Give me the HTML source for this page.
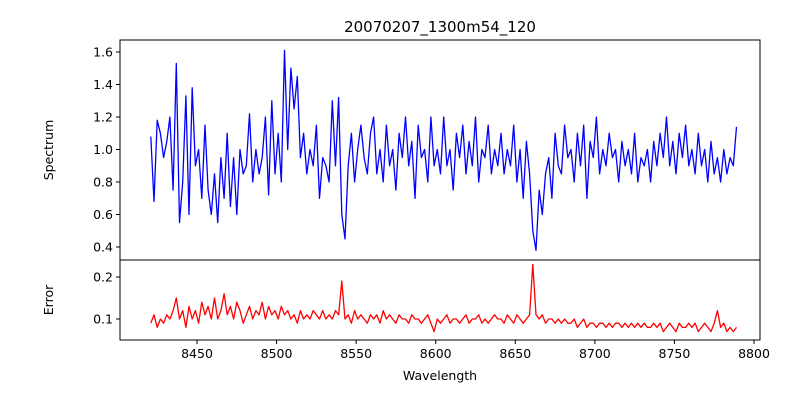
<!DOCTYPE html>
<html><head><meta charset="utf-8"><style>
body{margin:0;background:#fff;width:800px;height:400px;overflow:hidden}
svg text{font-family:"DejaVu Sans","Liberation Sans",sans-serif;font-size:12.5px;fill:#000}
</style></head><body>
<svg id="c" width="800" height="400" xmlns="http://www.w3.org/2000/svg"></svg>
<script>
const wlStart = 8421, wlStep = 2;
const spectrum = [1.08,0.68,1.18,1.1,0.95,1.05,1.2,0.75,1.53,0.55,
0.8,1.33,0.6,1.38,0.9,1.0,0.7,1.15,0.75,0.6,
0.85,0.55,0.95,0.7,1.1,0.65,0.95,0.6,1.0,0.85,
0.9,1.22,0.8,1.0,0.85,0.95,1.2,0.72,1.3,0.85,
1.1,0.8,1.61,1.0,1.5,1.25,1.45,0.95,1.1,0.85,
1.0,0.9,1.15,0.7,0.95,0.9,0.8,1.3,0.9,1.32,
0.6,0.45,0.9,1.1,0.8,1.0,1.15,0.95,0.85,1.1,
1.2,0.85,1.0,0.8,1.15,0.9,1.0,0.75,1.1,0.95,
1.2,0.9,1.05,0.7,1.15,0.95,1.0,0.8,1.2,0.9,
1.0,0.85,1.2,0.9,1.0,0.75,1.1,0.95,1.15,0.85,
1.05,0.9,1.2,0.8,1.0,0.95,1.15,0.85,1.0,0.9,
1.1,0.85,1.0,0.9,1.15,0.8,1.0,0.7,1.05,0.85,
0.5,0.38,0.75,0.6,0.85,0.95,0.7,1.1,0.9,0.85,
1.15,0.95,1.0,0.8,1.1,0.9,1.15,0.7,1.05,0.95,
1.2,0.85,1.0,0.9,1.1,0.95,1.0,0.8,1.05,0.9,
1.0,0.85,1.1,0.8,0.95,0.9,1.0,0.8,1.05,0.9,
1.1,0.95,1.2,0.9,1.05,0.85,1.1,0.95,1.15,0.9,
1.0,0.85,1.1,0.9,1.0,0.8,1.05,0.85,0.95,0.8,
1.0,0.85,0.95,0.9,1.14];
const errors = [0.09,0.11,0.08,0.1,0.09,0.11,0.1,0.12,0.15,0.1,
0.12,0.08,0.13,0.1,0.12,0.09,0.14,0.11,0.13,0.1,
0.15,0.1,0.12,0.16,0.11,0.13,0.1,0.14,0.12,0.09,
0.11,0.13,0.1,0.12,0.11,0.14,0.1,0.13,0.11,0.12,
0.1,0.13,0.11,0.12,0.1,0.11,0.09,0.12,0.1,0.11,
0.1,0.12,0.11,0.1,0.12,0.1,0.11,0.1,0.12,0.11,
0.19,0.1,0.11,0.09,0.12,0.1,0.11,0.1,0.09,0.11,
0.1,0.11,0.09,0.12,0.1,0.11,0.1,0.09,0.11,0.1,
0.1,0.09,0.11,0.1,0.1,0.09,0.1,0.11,0.09,0.07,
0.1,0.09,0.1,0.11,0.09,0.1,0.1,0.09,0.1,0.11,
0.09,0.1,0.1,0.11,0.09,0.1,0.09,0.1,0.11,0.1,
0.1,0.09,0.11,0.1,0.09,0.11,0.1,0.09,0.1,0.11,
0.23,0.11,0.1,0.11,0.09,0.1,0.1,0.09,0.1,0.09,
0.1,0.09,0.09,0.1,0.08,0.09,0.1,0.08,0.09,0.09,
0.08,0.09,0.09,0.08,0.09,0.08,0.09,0.09,0.08,0.09,
0.08,0.09,0.08,0.09,0.08,0.09,0.08,0.08,0.09,0.08,
0.09,0.07,0.08,0.09,0.08,0.07,0.09,0.08,0.08,0.09,
0.08,0.09,0.07,0.08,0.09,0.08,0.07,0.09,0.12,0.08,
0.09,0.07,0.08,0.07,0.08];
const xTicks = [8450,8500,8550,8600,8650,8700,8750,8800];
const specTicks = [0.4,0.6,0.8,1.0,1.2,1.4,1.6];
const errTicks = [0.1,0.2];

const NS="http://www.w3.org/2000/svg", svg=document.getElementById('c');
function mk(t,a,txt){const e=document.createElementNS(NS,t);for(const k in a)e.setAttribute(k,a[k]);if(txt!==undefined)e.textContent=txt;svg.appendChild(e);return e;}
const xS = w => 197 + (w-8450)*(754-197)/350;
const ySpec = v => 247 - (v-0.4)*(247-52)/1.2;
const yErr = v => 319 - (v-0.1)*420;

function line(vals,yf,color,name){
  let d='';vals.forEach((v,i)=>{d+=(i?'L':'M')+xS(wlStart+i*wlStep).toFixed(1)+','+yf(v).toFixed(1);});
  const p=mk('path',{d:d,fill:'none',stroke:color,'stroke-width':1.3,'stroke-linejoin':'round'});
  
  
}
line(spectrum,ySpec,'#0000ff','spectrum-line');
line(errors,yErr,'#ff0000','error-line');

let f=mk('rect',{x:120,y:40,width:640,height:220,fill:'none',stroke:'#000','stroke-width':1});


f=mk('rect',{x:120,y:260,width:640,height:80,fill:'none',stroke:'#000','stroke-width':1});



xTicks.forEach(t=>{const x=xS(t);mk('line',{x1:x,x2:x,y1:340,y2:344,stroke:'#000'});
  const e=mk('text',{x:x,y:358,'text-anchor':'middle'},String(t));
  
  });
specTicks.forEach(t=>{const y=ySpec(t);mk('line',{x1:116,x2:120,y1:y,y2:y,stroke:'#000'});
  const e=mk('text',{x:113,y:y+4.5,'text-anchor':'end'},t.toFixed(1));
  
  });
errTicks.forEach(t=>{const y=yErr(t);mk('line',{x1:116,x2:120,y1:y,y2:y,stroke:'#000'});
  const e=mk('text',{x:113,y:y+4.5,'text-anchor':'end'},t.toFixed(1));
  
  });

let t=mk('text',{x:440,y:32,'text-anchor':'middle'},'20070207_1300m54_120');


t.style.fontSize='15px';
t=mk('text',{x:440,y:380,'text-anchor':'middle'},'Wavelength');


t=mk('text',{x:53,y:150,'text-anchor':'middle',transform:'rotate(-90 53 150)'},'Spectrum');


t=mk('text',{x:53,y:300,'text-anchor':'middle',transform:'rotate(-90 53 300)'},'Error');


</script>
</body></html>
